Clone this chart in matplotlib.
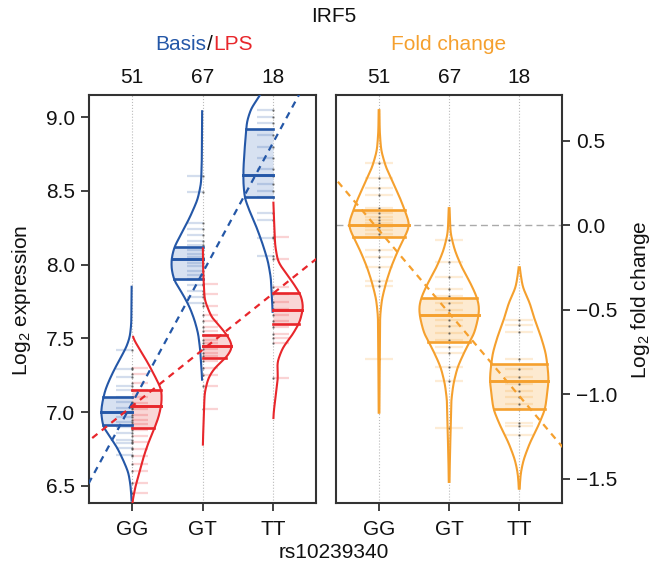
import numpy as np
import matplotlib
matplotlib.use('Agg')
import matplotlib.pyplot as plt

plt.rcParams['font.family'] = ['Liberation Sans', 'DejaVu Sans']
plt.rcParams['mathtext.default'] = 'regular'

# genotype groups
genotypes = ['GG', 'GT', 'TT']
counts = [51, 67, 18]

# violin outlines: y values and half-widths (x units)
gg_basis_y = [6.40, 6.50, 6.59, 6.67, 6.76, 6.83, 6.90, 7.00, 7.07, 7.15, 7.22, 7.29, 7.37, 7.44, 7.51, 7.60, 7.85]
gg_basis_w = [0.005, 0.02, 0.05, 0.12, 0.21, 0.31, 0.41, 0.44, 0.42, 0.38, 0.32, 0.25, 0.16, 0.08, 0.03, 0.01, 0.005]
gt_basis_y = [7.22, 7.41, 7.53, 7.62, 7.71, 7.80, 7.89, 7.97, 8.04, 8.12, 8.21, 8.32, 8.44, 8.55, 8.70, 9.04]
gt_basis_w = [0.005, 0.03, 0.06, 0.11, 0.18, 0.28, 0.40, 0.44, 0.44, 0.40, 0.30, 0.18, 0.07, 0.02, 0.01, 0.005]
tt_basis_y = [7.68, 7.91, 8.02, 8.13, 8.25, 8.36, 8.45, 8.55, 8.65, 8.80, 8.97, 9.06, 9.15, 9.25, 9.35]
tt_basis_w = [0.005, 0.03, 0.07, 0.14, 0.23, 0.33, 0.40, 0.42, 0.42, 0.40, 0.37, 0.31, 0.18, 0.08, 0.005]

gg_lps_y = [6.39, 6.50, 6.58, 6.69, 6.79, 6.88, 6.97, 7.06, 7.15, 7.22, 7.33, 7.44, 7.51]
gg_lps_w = [0.005, 0.05, 0.10, 0.16, 0.23, 0.31, 0.38, 0.42, 0.42, 0.35, 0.23, 0.09, 0.005]
gt_lps_y = [6.78, 6.86, 7.13, 7.23, 7.30, 7.37, 7.44, 7.50, 7.57, 7.64, 7.76, 7.95, 8.11]
gt_lps_w = [0.005, 0.01, 0.03, 0.08, 0.17, 0.34, 0.43, 0.38, 0.27, 0.13, 0.03, 0.01, 0.005]
tt_lps_y = [6.96, 7.00, 7.12, 7.23, 7.34, 7.44, 7.52, 7.61, 7.71, 7.79, 7.88, 7.95, 8.02, 8.13, 8.42]
tt_lps_w = [0.005, 0.01, 0.04, 0.07, 0.06, 0.14, 0.27, 0.38, 0.43, 0.40, 0.28, 0.17, 0.07, 0.03, 0.005]

gg_fold_y = [-1.11, -0.80, -0.54, -0.44, -0.34, -0.25, -0.15, -0.05, 0.00, 0.05, 0.15, 0.25, 0.34, 0.44, 0.55, 0.68]
gg_fold_w = [0.005, 0.01, 0.015, 0.04, 0.10, 0.17, 0.27, 0.39, 0.44, 0.40, 0.31, 0.20, 0.10, 0.03, 0.01, 0.005]
gt_fold_y = [-1.52, -1.40, -1.23, -1.04, -0.94, -0.84, -0.74, -0.64, -0.54, -0.48, -0.42, -0.34, -0.25, -0.15, -0.05, 0.10]
gt_fold_w = [0.005, 0.01, 0.02, 0.03, 0.06, 0.12, 0.23, 0.36, 0.42, 0.43, 0.39, 0.30, 0.18, 0.08, 0.02, 0.005]
tt_fold_y = [-1.56, -1.47, -1.39, -1.29, -1.19, -1.09, -0.99, -0.92, -0.86, -0.76, -0.66, -0.56, -0.46, -0.37, -0.25]
tt_fold_w = [0.005, 0.02, 0.06, 0.15, 0.27, 0.37, 0.40, 0.42, 0.41, 0.38, 0.31, 0.22, 0.15, 0.05, 0.005]

# quartiles
basis_q1 = [6.91, 7.90, 8.46]
basis_med = [7.00, 8.04, 8.61]
basis_q3 = [7.10, 8.12, 8.92]
lps_q1 = [6.89, 7.37, 7.60]
lps_med = [7.04, 7.45, 7.69]
lps_q3 = [7.15, 7.52, 7.81]
fold_q1 = [-0.07, -0.69, -1.09]
fold_med = [0.00, -0.53, -0.92]
fold_q3 = [0.09, -0.43, -0.82]

# individual samples (rug marks), approximate
gg_basis_pts = [7.42, 7.29, 7.24, 7.18, 7.15, 7.10, 7.07, 7.03, 7.00, 6.97, 6.93, 6.90, 6.86, 6.81, 6.79, 6.76, 6.71]
gt_basis_pts = [8.60, 8.49, 8.28, 8.24, 8.20, 8.16, 8.13, 8.10, 8.07, 8.05, 8.03, 8.01, 7.99, 7.96, 7.93, 7.90, 7.86, 7.82, 7.78, 7.74]
tt_basis_pts = [9.05, 9.00, 8.96, 8.88, 8.80, 8.72, 8.65, 8.60, 8.55, 8.50, 8.46, 8.35, 8.30, 8.18, 8.06]
gg_lps_pts = [7.30, 7.26, 7.20, 7.15, 7.10, 7.06, 7.02, 6.98, 6.95, 6.92, 6.88, 6.84, 6.80, 6.75, 6.70, 6.65, 6.60, 6.52, 6.45]
gt_lps_pts = [7.87, 7.80, 7.72, 7.66, 7.62, 7.58, 7.55, 7.52, 7.49, 7.47, 7.45, 7.43, 7.40, 7.38, 7.35, 7.30, 7.25, 7.18, 7.02]
tt_lps_pts = [8.19, 8.04, 7.85, 7.80, 7.75, 7.70, 7.66, 7.62, 7.58, 7.53, 7.50, 7.47, 7.23]
gg_fold_pts = [0.37, 0.28, 0.22, 0.18, 0.10, 0.07, 0.05, 0.03, 0.01, -0.01, -0.03, -0.05, -0.07, -0.15, -0.19, -0.25, -0.33, -0.36, -0.79]
gt_fold_pts = [-0.09, -0.22, -0.31, -0.38, -0.42, -0.46, -0.50, -0.53, -0.56, -0.60, -0.64, -0.68, -0.72, -0.76, -0.84, -0.92, -1.20]
tt_fold_pts = [-0.56, -0.59, -0.63, -0.79, -0.85, -0.90, -0.94, -0.98, -1.02, -1.06, -1.09, -1.17, -1.19, -1.24]

# linear trend lines: intercept, slope (per genotype step)
basis_fit = [6.177, 0.883]
lps_fit = [6.658, 0.382]
fold_fit = [0.459, -0.49]

BLUE = '#2457a7'
RED = '#e8262b'
ORANGE = '#f5a02e'
BLUE_FILL = '#d0dcef'
RED_FILL = '#f8cfcf'
ORANGE_FILL = '#fde7c8'
FRAME = '#333333'
FS = 15


def outline(ys, ws):
    ys = np.asarray(ys, float)
    ws = np.asarray(ws, float)
    grid = np.linspace(ys[0], ys[-1], 400)
    w = np.interp(grid, ys, ws)
    # light smoothing of the traced outline
    step = grid[1] - grid[0]
    sig = 0.025 / step
    k = np.arange(-int(3 * sig), int(3 * sig) + 1)
    kern = np.exp(-0.5 * (k / sig) ** 2)
    kern /= kern.sum()
    pad = len(k) // 2
    wp = np.concatenate([np.full(pad, w[0]), w, np.full(pad, w[-1])])
    w = np.convolve(wp, kern, mode='valid')
    return grid, w


def half_violin(ax, c, ys, ws, side, q1, med, q3, pts, color, fill):
    g, w = outline(ys, ws)
    sign = -1 if side == 'left' else 1
    edge = c + sign * w
    inbox = (g >= q1) & (g <= q3)
    ax.fill_betweenx(g[inbox], c, edge[inbox], color=fill, alpha=0.85, lw=0, zorder=2)
    for p in pts:
        ax.plot([c, c + sign * 0.22], [p, p], color=color, alpha=0.2, lw=1.6,
                solid_capstyle='butt', zorder=3)
    ax.plot(np.full(len(pts), c), pts, ls='none', marker='.', ms=1.5,
            color='#444444', alpha=0.6, zorder=4)
    ax.plot(edge, g, color=color, lw=1.5, zorder=5)
    for q, lw in ((q1, 1.9), (med, 2.1), (q3, 1.9)):
        wq = np.interp(q, g, w)
        ax.plot([c, c + sign * wq], [q, q], color=color, lw=lw, zorder=5)


def full_violin(ax, c, ys, ws, q1, med, q3, pts, color, fill):
    g, w = outline(ys, ws)
    inbox = (g >= q1) & (g <= q3)
    ax.fill_betweenx(g[inbox], c - w[inbox], c + w[inbox], color=fill, alpha=0.85, lw=0, zorder=2)
    for p in pts:
        ax.plot([c - 0.2, c + 0.2], [p, p], color=color, alpha=0.2, lw=1.6,
                solid_capstyle='butt', zorder=3)
    ax.plot(np.full(len(pts), c), pts, ls='none', marker='.', ms=1.5,
            color='#444444', alpha=0.6, zorder=4)
    ax.plot(c - w, g, color=color, lw=1.5, zorder=5)
    ax.plot(c + w, g, color=color, lw=1.5, zorder=5)
    for q, lw in ((q1, 1.9), (med, 2.1), (q3, 1.9)):
        wq = np.interp(q, g, w)
        ax.plot([c - wq, c + wq], [q, q], color=color, lw=lw, zorder=5)


fig = plt.figure(figsize=(6.52, 5.68), dpi=100)
ax1 = fig.add_axes([89 / 652, 1 - 503 / 568, 227 / 652, 408 / 568])
ax2 = fig.add_axes([336 / 652, 1 - 503 / 568, 226 / 652, 408 / 568])

xs = np.array([1, 2, 3])
basis_shapes = [(gg_basis_y, gg_basis_w), (gt_basis_y, gt_basis_w), (tt_basis_y, tt_basis_w)]
lps_shapes = [(gg_lps_y, gg_lps_w), (gt_lps_y, gt_lps_w), (tt_lps_y, tt_lps_w)]
fold_shapes = [(gg_fold_y, gg_fold_w), (gt_fold_y, gt_fold_w), (tt_fold_y, tt_fold_w)]
basis_pts = [gg_basis_pts, gt_basis_pts, tt_basis_pts]
lps_pts = [gg_lps_pts, gt_lps_pts, tt_lps_pts]
fold_pts = [gg_fold_pts, gt_fold_pts, tt_fold_pts]

for ax in (ax1, ax2):
    for x in xs:
        ax.axvline(x, color='#bbbbbb', ls=':', lw=0.8, zorder=1)

for i, x in enumerate(xs):
    half_violin(ax1, x, *basis_shapes[i], 'left', basis_q1[i], basis_med[i], basis_q3[i],
                basis_pts[i], BLUE, BLUE_FILL)
    half_violin(ax1, x, *lps_shapes[i], 'right', lps_q1[i], lps_med[i], lps_q3[i],
                lps_pts[i], RED, RED_FILL)
    full_violin(ax2, x, *fold_shapes[i], fold_q1[i], fold_med[i], fold_q3[i],
                fold_pts[i], ORANGE, ORANGE_FILL)

line_x = np.array([0.3, 3.7])
ax1.plot(line_x, basis_fit[0] + basis_fit[1] * line_x, color=BLUE, lw=1.6,
         ls=(0, (3, 2.5)), zorder=6)
ax1.plot(line_x, lps_fit[0] + lps_fit[1] * line_x, color=RED, lw=1.6,
         ls=(0, (3, 2.5)), zorder=6)
ax2.plot(line_x, fold_fit[0] + fold_fit[1] * line_x, color=ORANGE, lw=1.6,
         ls=(0, (3, 2.5)), zorder=6)
ax2.axhline(0, color='#aaaaaa', lw=1.0, ls=(0, (5, 3)), zorder=1)

ax1.set_xlim(0.39, 3.61)
ax1.set_ylim(6.384, 9.15)
ax1.set_yticks([6.5, 7.0, 7.5, 8.0, 8.5, 9.0])
ax1.set_yticklabels(['6.5', '7.0', '7.5', '8.0', '8.5', '9.0'])

ax2.set_xlim(0.386, 3.61)
ax2.set_ylim(-1.645, 0.77)
ax2.set_yticks([-1.5, -1.0, -0.5, 0.0, 0.5])
ax2.set_yticklabels(['\u22121.5', '\u22121.0', '\u22120.5', '0.0', '0.5'])
ax2.yaxis.tick_right()

for ax in (ax1, ax2):
    ax.set_xticks(xs)
    ax.set_xticklabels(genotypes)
    for s in ax.spines.values():
        s.set_color(FRAME)
        s.set_linewidth(1.5)
    ax.tick_params(axis='both', length=6, width=1.3, color=FRAME, labelsize=FS,
                   labelcolor='#111111')
    ax.tick_params(axis='x', pad=6)
    ax.tick_params(axis='y', pad=4)
    for x, n in zip(xs, counts):
        ax.text(x, 1.042, str(n), transform=ax.get_xaxis_transform(), ha='center',
                va='center', fontsize=FS, color='#111111')

fig.text(334 / 652, 1 - 17 / 568, 'IRF5', ha='center', va='center', fontsize=FS, color='#111111')
fig.text(206 / 652, 1 - 45 / 568, 'Basis', ha='right', va='center', fontsize=FS, color=BLUE)
fig.text(209.5 / 652, 1 - 45 / 568, '/', ha='center', va='center', fontsize=FS, color='#111111')
fig.text(213 / 652, 1 - 45 / 568, 'LPS', ha='left', va='center', fontsize=FS, color=RED)
fig.text(449 / 652, 1 - 45 / 568, 'Fold change', ha='center', va='center', fontsize=FS, color=ORANGE)
fig.text(334 / 652, 1 - 553 / 568, 'rs10239340', ha='center', va='center', fontsize=FS, color='#111111')
fig.text(22 / 652, 1 - 300 / 568, 'Log$_2$ expression', rotation=90, ha='center', va='center',
         fontsize=FS, color='#111111')
fig.text(641 / 652, 1 - 300 / 568, 'Log$_2$ fold change', rotation=90, ha='center', va='center',
         fontsize=FS, color='#111111')

fig.savefig('out.png', dpi=100)
